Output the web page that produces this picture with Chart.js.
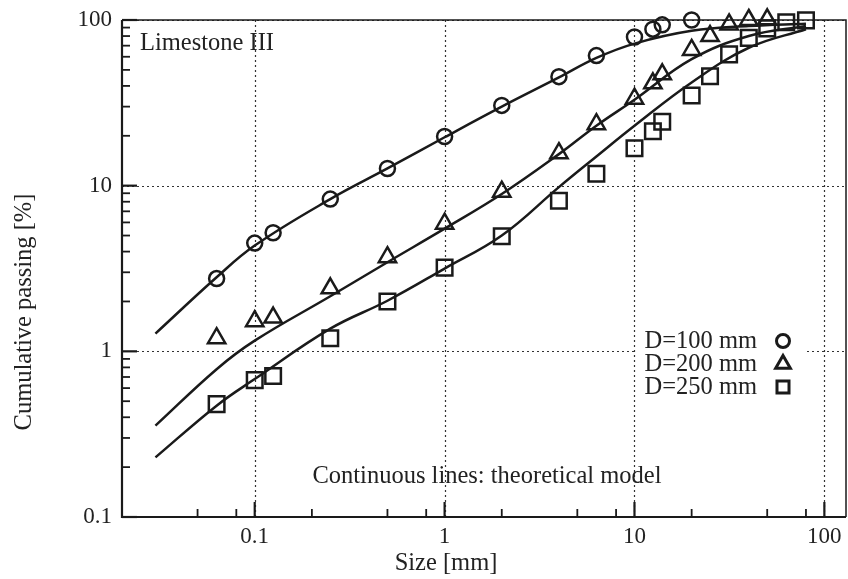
<!DOCTYPE html>
<html>
<head>
<meta charset="utf-8">
<title>Limestone III</title>
<script src="https://cdn.jsdelivr.net/npm/chart.js@4.4.1/dist/chart.umd.min.js"></script>
<style>
  body { margin: 0; background: #fff; }
</style>
</head>
<body>
<canvas id="myChart" width="848" height="579"></canvas>
<script>
// measured sieve sizes [mm]
var sizes = [0.063, 0.1, 0.125, 0.25, 0.5, 1, 2, 4, 6.3, 10, 12.5, 14, 20, 25, 31.5, 40, 50, 63, 80];
var d100 = [2.75, 4.5, 5.2, 8.3, 12.7, 19.8, 30.5, 45.5, 61, 79, 88, 93.5, 100];
var d200 = [1.2, 1.52, 1.6, 2.4, 3.7, 5.9, 9.2, 15.7, 23.5, 33.5, 41.5, 47, 66, 80, 94, 100, 101];
var d250 = [0.48, 0.67, 0.71, 1.2, 2.0, 3.2, 4.95, 8.1, 11.8, 16.8, 21.3, 24.3, 35, 45.8, 62, 78, 89, 97, 99.5];

// theoretical model curves
var modelSizes = [0.03, 0.063, 0.1, 0.25, 0.5, 1, 2, 4, 6.3, 10, 20, 40, 80];
var model100 = [1.28, 2.8, 4.35, 8.3, 12.7, 19.6, 30, 45, 59, 72, 86, 92, 95];
var model200 = [0.356, 0.78, 1.16, 2.15, 3.45, 5.5, 8.9, 15.5, 23, 33, 58, 80, 92];
var model250 = [0.229, 0.47, 0.68, 1.37, 2.02, 3.16, 5.0, 9.8, 15.0, 23, 42, 68, 88];

var xMajor = [0.1, 1, 10, 100];
var yMajor = [0.1, 1, 10, 100];
var legendLabels = ['D=100 mm', 'D=200 mm', 'D=250 mm'];
var xTitle = 'Size [mm]';
var yTitle = 'Cumulative passing [%]';

function pairs(xs, ys) {
    var out = [];
    for (var i = 0; i < ys.length; i++) {
        out.push({x: xs[i], y: ys[i]});
    }
    return out;
}

var ink = '#1a1a1a';
var serif = "'Liberation Serif', 'DejaVu Serif', serif";

function markerSet(label, values, style, radius) {
    return {
        label: label,
        data: pairs(sizes, values),
        showLine: false,
        pointStyle: style,
        pointRadius: radius,
        pointBorderWidth: 2.5,
        pointBorderColor: ink,
        pointBackgroundColor: 'rgba(0,0,0,0)',
        clip: false
    };
}

function modelSet(values) {
    return {
        data: pairs(modelSizes, values),
        showLine: true,
        borderColor: ink,
        borderWidth: 2.5,
        pointRadius: 0,
        tension: 0.4,
        fill: false
    };
}

var frame = {
    id: 'frame',
    beforeDatasetsDraw: function (chart) {
        var ctx = chart.ctx, a = chart.chartArea;
        var x = chart.scales.x, y = chart.scales.y;
        ctx.save();
        ctx.strokeStyle = '#333';
        ctx.lineWidth = 1.2;
        ctx.setLineDash([2, 3]);
        xMajor.forEach(function (v) {
            var px = Math.round(x.getPixelForValue(v)) + 0.5;
            ctx.beginPath(); ctx.moveTo(px, a.top); ctx.lineTo(px, a.bottom); ctx.stroke();
        });
        yMajor.forEach(function (v) {
            var py = Math.round(y.getPixelForValue(v)) + 0.5;
            ctx.beginPath(); ctx.moveTo(a.left, py); ctx.lineTo(a.right, py); ctx.stroke();
        });
        ctx.setLineDash([]);
        // legend background hides the grid behind it
        ctx.fillStyle = '#fff';
        ctx.fillRect(a.right - 210, a.top + 310, 171, 72);
        ctx.restore();
    },
    afterDraw: function (chart) {
        var ctx = chart.ctx, a = chart.chartArea;
        var x = chart.scales.x, y = chart.scales.y;
        ctx.save();
        ctx.strokeStyle = ink;

        // box
        ctx.lineWidth = 1.5;
        ctx.beginPath();
        ctx.moveTo(a.left, a.top); ctx.lineTo(a.right, a.top); ctx.lineTo(a.right, a.bottom);
        ctx.stroke();
        ctx.lineWidth = 2.2;
        ctx.beginPath();
        ctx.moveTo(a.left, a.top); ctx.lineTo(a.left, a.bottom); ctx.lineTo(a.right, a.bottom);
        ctx.stroke();

        // inward ticks
        var d, m, v, p;
        for (d = 0.01; d <= 100; d *= 10) {
            for (m = 1; m <= 9; m++) {
                v = d * m;
                if (m === 1 || m === 2 || m === 5 || m === 8) {
                    if (v > x.min && v < x.max) {
                        p = x.getPixelForValue(v);
                        ctx.lineWidth = m === 1 ? 2.2 : 1.8;
                        ctx.beginPath(); ctx.moveTo(p, a.bottom); ctx.lineTo(p, a.bottom - (m === 1 ? 15 : 8)); ctx.stroke();
                    }
                }
                if (v >= y.min && v <= y.max) {
                    p = y.getPixelForValue(v);
                    ctx.lineWidth = m === 1 ? 2.2 : 1.8;
                    ctx.beginPath(); ctx.moveTo(a.left, p); ctx.lineTo(a.left + (m === 1 ? 15 : 8), p); ctx.stroke();
                }
            }
        }

        // axis titles (offset from the plot centre, as in the original figure)
        ctx.fillStyle = '#222';
        ctx.font = '24.5px ' + serif;
        ctx.textAlign = 'center';
        ctx.textBaseline = 'middle';
        ctx.fillText(xTitle, a.left + 324, chart.height - 15);
        ctx.save();
        ctx.translate(24.7, a.top + 292);
        ctx.rotate(-Math.PI / 2);
        ctx.fillText(yTitle, 0, 0);
        ctx.restore();

        // text notes
        ctx.textBaseline = 'alphabetic';
        ctx.textAlign = 'left';
        ctx.fillText('Limestone III', a.left + 18, a.top + 30);
        ctx.textAlign = 'center';
        ctx.fillText('Continuous lines: theoretical model', a.left + 365, a.bottom - 34);

        // legend
        var styles = [['circle', 6.5], ['triangle', 8.5], ['rect', 8.5]];
        ctx.textAlign = 'right';
        for (var i = 0; i < legendLabels.length; i++) {
            var cy = a.top + 321 + i * 23;
            ctx.fillStyle = '#222';
            ctx.fillText(legendLabels[i], a.right - 89, cy + 7);
            ctx.fillStyle = '#fff';
            ctx.strokeStyle = ink;
            ctx.lineWidth = 3;
            Chart.helpers.drawPoint(ctx, {pointStyle: styles[i][0], radius: styles[i][1], rotation: 0, borderWidth: 3}, a.right - 63, cy);
        }
        ctx.restore();
    }
};

var ctx = document.getElementById('myChart');

var chart = new Chart(ctx, {
    type: 'scatter',
    data: {
        datasets: [
            markerSet(legendLabels[0], d100, 'circle', 7.5),
            markerSet(legendLabels[1], d200, 'triangle', 10),
            markerSet(legendLabels[2], d250, 'rect', 11),
            modelSet(model100),
            modelSet(model200),
            modelSet(model250)
        ]
    },
    options: {
        responsive: false,
        animation: false,
        layout: { autoPadding: false, padding: { top: 20, right: 2, left: 0, bottom: 0 } },
        plugins: {
            legend: { display: false },
            tooltip: { enabled: false }
        },
        scales: {
            x: {
                type: 'logarithmic',
                min: 0.02,
                max: 130,
                grid: { display: false, drawTicks: false },
                border: { display: false },
                afterBuildTicks: function (s) { s.ticks = xMajor.map(function (v) { return {value: v}; }); },
                afterFit: function (s) { s.height = 62; s.paddingLeft = 0; s.paddingRight = 0; },
                ticks: {
                    color: '#222',
                    padding: 6,
                    maxRotation: 0,
                    autoSkip: false,
                    font: { family: serif, size: 23 },
                    callback: function (v) { return String(v); }
                },
                title: { display: false }
            },
            y: {
                type: 'logarithmic',
                min: 0.1,
                max: 100,
                grid: { display: false, drawTicks: false },
                border: { display: false },
                afterBuildTicks: function (s) { s.ticks = yMajor.map(function (v) { return {value: v}; }); },
                afterFit: function (s) { s.width = 122; s.paddingTop = 0; s.paddingBottom = 0; },
                ticks: {
                    color: '#222',
                    padding: 10,
                    autoSkip: false,
                    font: { family: serif, size: 23 },
                    callback: function (v) { return String(v); }
                },
                title: { display: false }
            }
        }
    },
    plugins: [frame]
});
</script>
</body>
</html>
